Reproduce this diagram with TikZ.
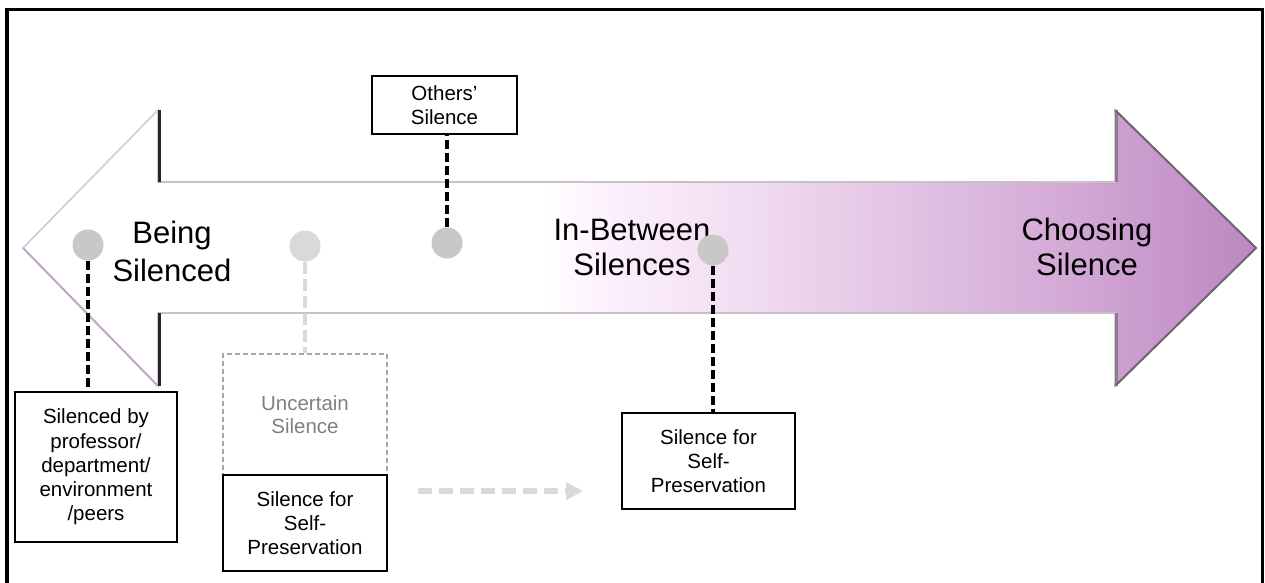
\documentclass[tikz,border=0pt]{standalone}
\usepackage{fontspec}
\setmainfont{Liberation Sans}
\usetikzlibrary{arrows.meta}

\definecolor{dotgray}{HTML}{C8C8C8}
\definecolor{paledot}{HTML}{D9D9D9}
\definecolor{ghostline}{HTML}{A6A6A6}
\definecolor{ghosttext}{HTML}{808080}
\definecolor{rimlight}{RGB}{214,200,216}
\definecolor{rimshade}{RGB}{192,170,196}
\definecolor{shaftedge}{RGB}{200,192,200}
\definecolor{headdark}{RGB}{110,100,112}
\definecolor{headmid}{RGB}{138,126,140}
\definecolor{tintA}{RGB}{252,238,252}
\definecolor{tintB}{RGB}{240,218,240}
\definecolor{tintC}{RGB}{226,196,228}
\definecolor{tintD}{RGB}{212,170,215}
\definecolor{tintE}{RGB}{188,134,192}

\begin{document}
\begin{tikzpicture}[x=1pt,y=-1pt,
  bigtxt/.style={font=\fontsize{31}{35}\selectfont, align=center, inner sep=0pt},
  dot/.style={circle, fill=dotgray, minimum size=31pt, inner sep=0pt},
  card/.style={draw=black, line width=2pt, fill=white, align=center, inner sep=0pt,
               font=\fontsize{20.5}{24.3}\selectfont},
  ghostcard/.style={draw=ghostline, line width=1.4pt, dash pattern=on 5pt off 3pt,
               text=ghosttext, align=center, inner sep=0pt,
               font=\fontsize{20.5}{23.5}\selectfont},
  inkdash/.style={draw=black, line width=3.5pt, dash pattern=on 9pt off 4pt},
  paledash/.style={draw=paledot, line width=4pt, dash pattern=on 12pt off 5pt},
  pathdash/.style={draw=paledot, line width=6pt, dash pattern=on 14pt off 7pt,
               -{Triangle[length=17pt,width=17pt]}}
]
\useasboundingbox (0,0) rectangle (1265,583);

% outer frame
\draw[line width=3.5pt] (7,9.5) rectangle (1262.5,595);

% corners of the double-headed arrow
\coordinate (tipL) at (23,248);
\coordinate (hLt) at (158,110);
\coordinate (sLt) at (158,182);
\coordinate (sRt) at (1115,182);
\coordinate (hRt) at (1115,110);
\coordinate (tipR) at (1256,248);
\coordinate (hRb) at (1115,386);
\coordinate (sRb) at (1115,313);
\coordinate (sLb) at (158,313);
\coordinate (hLb) at (158,386);

% arrow body with its white-to-plum fill
\begin{scope}
  \clip (tipL) -- (hLt) -- (sLt) -- (sRt) -- (hRt) -- (tipR) -- (hRb) -- (sRb)
        -- (sLb) -- (hLb) -- cycle;
  \fill[white] (15,100) rectangle (541,400);
  \shade[left color=white, right color=tintA] (540,100) rectangle (621,400);
  \shade[left color=tintA, right color=tintB] (620,100) rectangle (761,400);
  \shade[left color=tintB, right color=tintC] (760,100) rectangle (901,400);
  \shade[left color=tintC, right color=tintD] (900,100) rectangle (1061,400);
  \shade[left color=tintD, right color=tintE] (1060,100) rectangle (1260,400);
\end{scope}

% arrow rim and bevel edges
\draw[rimlight, line width=1.6pt, line join=miter]
  (tipL) -- (hLt) -- (sLt) -- (sRt) -- (hRt) -- (tipR) -- (hRb) -- (sRb)
  -- (sLb) -- (hLb) -- cycle;
\draw[rimshade, line width=2pt] (tipL) -- (hLb);
\draw[shaftedge, line width=2pt] (sLt) -- (sRt);
\draw[shaftedge, line width=2pt] (sLb) -- (sRb);
\draw[black!85, line width=2.5pt] ([xshift=1.5pt]hLt) -- ([xshift=1.5pt]sLt);
\draw[black!85, line width=2.5pt] ([xshift=1.5pt]sLb) -- ([xshift=1.5pt]hLb);
\draw[headmid, line width=2.5pt] ([xshift=1.5pt]hRt) -- ([xshift=1.5pt]sRt);
\draw[headmid, line width=2.5pt] ([xshift=1.5pt]sRb) -- ([xshift=1.5pt]hRb);
\draw[headdark, line width=2pt, line join=miter] (hRt) -- (tipR) -- (hRb);

% stage labels along the arrow
\node[bigtxt, font=\fontsize{31}{38}\selectfont] (being) at (172,251) {Being\\Silenced};
\node[bigtxt] (between) at (632,247) {In-Between\\Silences};
\node[bigtxt] (choosing) at (1087,247) {Choosing\\Silence};

% markers on the arrow
\node[dot] (d1) at (88,245) {};
\node[dot, fill=paledot] (d2) at (305,246) {};
\node[dot] (d3) at (447,243) {};
\node[dot] (d4) at (713,250) {};

% boxes
\node[card, minimum width=162pt, minimum height=150pt] (b1) at (96,467)
  {Silenced by\\professor/\\department/\\environment\\/peers};
\node[card, minimum width=145pt, minimum height=58pt] (b3) at (444.5,105)
  {Others’\\Silence};
\node[ghostcard, minimum width=164pt, minimum height=121pt] (bu) at (305,414.5)
  {Uncertain\\Silence};
\node[card, minimum width=164pt, minimum height=96pt] (b2) at (305,523)
  {Silence for\\Self-\\Preservation};
\node[card, minimum width=173pt, minimum height=96pt] (b4) at (708.5,461)
  {Silence for\\Self-\\Preservation};

% connectors
\draw[inkdash] (d1) -- (d1 |- b1.north);
\draw[inkdash] (d3) -- (d3 |- b3.south);
\draw[inkdash] (d4) -- (d4 |- b4.north);
\draw[paledash] (d2) -- (d2 |- bu.north);

\coordinate (ga) at (418,491);
\coordinate (gb) at (583,491);
\draw[pathdash] (ga) -- (gb);
\end{tikzpicture}
\end{document}
